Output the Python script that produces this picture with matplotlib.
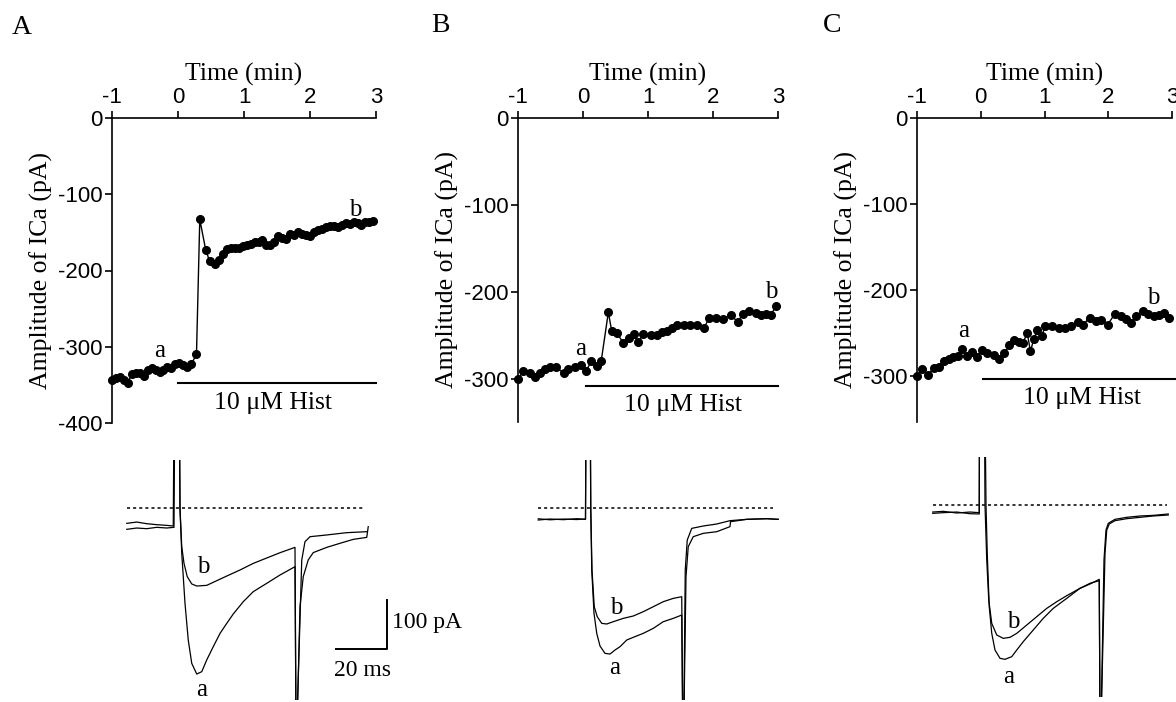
import numpy as np
import matplotlib
matplotlib.use("Agg")
from matplotlib import pyplot as plt

plt.rcParams["axes.unicode_minus"] = False

W, H = 1176, 702
SERIF = "Liberation Serif"
SANS = "Liberation Sans"

# ---- time course of ICa amplitude (min, pA) ----
time_A = [-1.00, -0.94, -0.88, -0.82, -0.76, -0.70, -0.64, -0.58, -0.52, -0.46,
          -0.40, -0.34, -0.28, -0.22, -0.16, -0.10, -0.04, 0.02, 0.08, 0.14,
          0.20, 0.28, 0.33, 0.42, 0.48, 0.56, 0.62, 0.68, 0.74, 0.80,
          0.86, 0.92, 0.98, 1.04, 1.10, 1.16, 1.22, 1.28, 1.34, 1.40,
          1.46, 1.52, 1.58, 1.64, 1.70, 1.76, 1.82, 1.88, 1.94, 2.00,
          2.06, 2.12, 2.18, 2.24, 2.30, 2.36, 2.42, 2.48, 2.54, 2.60,
          2.66, 2.72, 2.78, 2.84, 2.90, 2.95]
ica_A = [-343, -341, -340, -344, -347, -336, -334, -335, -339, -330,
         -328, -330, -333, -330, -327, -328, -322, -321, -324, -326,
         -323, -310, -133, -173, -188, -192, -186, -178, -172, -171,
         -170, -170, -168, -167, -165, -163, -162, -160, -166, -167,
         -163, -155, -157, -159, -152, -154, -149, -152, -153, -155,
         -150, -147, -145, -143, -141, -142, -143, -140, -138, -139,
         -137, -138, -140, -137, -136, -135]

time_B = [-1.00, -0.92, -0.82, -0.74, -0.66, -0.59, -0.51, -0.41, -0.30, -0.23,
          -0.13, -0.03, 0.05, 0.13, 0.21, 0.28, 0.39, 0.44, 0.52, 0.62,
          0.70, 0.78, 0.85, 0.93, 1.04, 1.14, 1.22, 1.29, 1.37, 1.45,
          1.55, 1.65, 1.76, 1.86, 1.94, 2.04, 2.15, 2.27, 2.38, 2.46,
          2.56, 2.66, 2.74, 2.81, 2.89, 2.97]
ica_B = [-300, -291, -293, -297, -293, -288, -286, -286, -293, -288,
         -286, -283, -290, -279, -285, -279, -223, -244, -247, -258,
         -253, -248, -257, -248, -249, -249, -246, -244, -241, -238,
         -238, -238, -238, -241, -230, -230, -231, -226, -234, -225,
         -221, -224, -226, -225, -226, -216]

time_C = [-1.00, -0.92, -0.82, -0.74, -0.66, -0.58, -0.50, -0.43, -0.35, -0.30,
          -0.22, -0.14, -0.06, 0.02, 0.10, 0.21, 0.29, 0.37, 0.45, 0.52,
          0.60, 0.66, 0.73, 0.78, 0.83, 0.89, 0.96, 1.01, 1.11, 1.22,
          1.32, 1.42, 1.53, 1.60, 1.71, 1.81, 1.89, 1.99, 2.10, 2.20,
          2.28, 2.36, 2.44, 2.54, 2.62, 2.72, 2.80, 2.88, 2.96]
ica_C = [-300, -292, -298, -290, -289, -282, -280, -278, -276, -268,
         -276, -272, -277, -269, -273, -275, -280, -273, -264, -258,
         -260, -261, -250, -271, -257, -246, -253, -241, -242, -244,
         -244, -242, -237, -240, -232, -236, -235, -240, -228, -230,
         -233, -238, -230, -224, -228, -230, -229, -226, -232]

# ---- current traces (ms from pulse onset, pA from zero level) ----
trA_a_t = [-19.7, -15.7, -11.7, -7.7, -3.7, -0.8, -0.5, 1.4, 1.6, 2.3, 3.6, 4.9, 6.3, 8.3,
           10.3, 12.3, 14.9, 17.6, 20.3, 22.9, 26.9, 30.9, 36.3, 41.6, 47.6, 48.0, 48.4,
           49.6, 50.9, 52.9, 54.9, 60.3, 65.6, 70.9, 76.3, 76.9]
trA_a_i = [-43.5, -40.8, -42.2, -39.4, -40.8, -39.4, 200, 200, -1.3, -92.5, -194.6, -269.4,
           -317, -338.8, -334, -310, -283, -256, -235.4, -216.3, -191.2, -170.7, -153.7,
           -136.7, -119.7, -450, -450, -201.4, -140, -106, -91, -80.3, -72, -64, -59.9, -38]
trA_b_t = [-19.7, -15.7, -11.7, -7.7, -3.7, -1.1, -0.8, 1.3, 1.6, 2.3, 3.2, 4.5, 6.3, 8.3,
           12.3, 16.3, 20.3, 25.6, 30.9, 36.3, 41.6, 47.6, 48.0, 48.3, 50.3, 51.6, 53.6,
           60.3, 68.3, 76.3]
trA_b_i = [-31.3, -28.6, -32, -34, -35.4, -36.7, 200, 200, -1.3, -78.9, -112.9, -140.1,
           -155, -159.2, -157.8, -148.3, -138.8, -126.5, -113, -102, -91.2, -80.3, -450,
           -450, -106, -68.7, -58.5, -55, -50.3, -48.3]

trB_a_t = [-19.5, -14.8, -9.5, -4.1, -0.6, -0.4, 1.3, 1.5, 1.9, 2.8, 3.9, 5.2, 7.2, 9.2,
           11.2, 13.2, 15.9, 18.5, 22.5, 26.5, 30.5, 34.5, 37.9, 38.3, 38.7, 39.6, 40.5,
           42.5, 46.5, 51.9, 57.2, 57.4, 63.9, 71.9, 76.5]
trB_a_i = [-24.5, -22.4, -23.8, -21.8, -23.1, 200, 200, 0, -126.5, -215, -255.8, -281.6,
           -296.6, -298, -289.8, -283, -269.4, -263.9, -255.8, -245.6, -232, -225.2, -218.4,
           -450, -450, -140, -78.9, -58.5, -51.7, -48.3, -38, -27.9, -23.1, -21.8, -23.1]
trB_b_t = [-19.5, -14.8, -9.5, -4.1, -0.6, -0.4, 1.3, 1.5, 2.0, 2.9, 4.1, 5.9, 7.9, 10.5,
           14.5, 18.5, 22.5, 26.5, 30.5, 34.5, 37.9, 38.3, 38.7, 39.3, 40.1, 41.9, 46.5,
           51.9, 57.2, 63.9, 71.9, 76.5]
trB_b_i = [-22.0, -24.0, -22.5, -23.5, -22.5, 200, 200, 0, -126.5, -201.4, -221.8, -235.4,
           -236.7, -232, -225.2, -220.4, -211.6, -201.4, -191.2, -184.4, -181, -450, -450,
           -126.5, -65.3, -41.5, -36.7, -32.6, -25.8, -23.1, -21.8, -23.1]

trC_a_t = [-19.7, -15.5, -10.1, -4.8, -1.1, -1.0, 1.2, 1.6, 2.1, 2.9, 3.9, 5.2, 7.2, 9.2,
           11.9, 13.9, 16.5, 20.5, 24.5, 28.5, 33.9, 39.2, 43.2, 46.9, 47.2, 47.6, 49.2,
           49.9, 50.9, 53.2, 57.9, 63.2, 68.5, 74.5]
trC_a_i = [-17, -15.6, -14.3, -17.7, -18.3, 200, 200, 0, -98.6, -207.5, -261.9, -295.9,
           -312.9, -314.9, -309.5, -295.9, -278.9, -255.1, -231.3, -210.9, -190.5, -170,
           -159.8, -154.4, -450, -450, -98.6, -51, -38.7, -31.9, -27.9, -25.1, -22.4, -20.4]
trC_b_t = [-19.7, -15.5, -10.1, -4.8, -1.1, -1.0, 1.0, 1.2, 1.9, 2.7, 3.9, 5.9, 8.5, 11.2,
           13.9, 17.9, 21.9, 25.9, 29.9, 33.9, 39.2, 43.2, 46.9, 47.2, 47.6, 48.8, 49.6,
           50.5, 53.2, 57.9, 63.2, 68.5, 74.5]
trC_b_i = [-14.3, -12.9, -16.3, -14.3, -15.6, 200, 200, 0, -112.2, -193.9, -241.5, -265.3,
           -272.1, -270, -261.9, -244.9, -227.9, -210.9, -197.3, -185, -170, -161.2, -151.7,
           -450, -450, -112, -51, -37.4, -29.2, -25.1, -22.4, -21.1, -18.3]


def box(l, t, r, b):
    return [l / W, 1 - b / H, (r - l) / W, (b - t) / H]


fig = plt.figure(figsize=(W / 100, H / 100), dpi=100)

panels = [
    # letter, letter pos, axes box, ymin, times, values, a pos, b pos, bar y, bar x0, bar x1, text pos
    ("A", (22, 27), (112, 118, 376, 423), -400, time_A, ica_A, (-0.28, -305), (2.68, -120),
     -347, 0.0, 3.0, (1.44, -374)),
    ("B", (440, 25), (518, 118, 778, 422), -349, time_B, ica_B, (-0.03, -265), (2.89, -200),
     -308, 0.05, 3.0, (1.54, -329)),
    ("C", (832, 25), (917, 118, 1172, 422), -353, time_C, ica_C, (-0.27, -247), (2.70, -209),
     -303, 0.03, 3.05, (1.59, -325)),
]

for (let, lpos, bx, ymin, tt, vv, apos, bpos, bary, bx0, bx1, tpos) in panels:
    fig.text(lpos[0] / W, 1 - lpos[1] / H, let, family=SERIF, fontsize=20,
             ha="center", va="center")
    ax = fig.add_axes(box(*bx))
    ax.plot(tt, vv, "-o", color="black", lw=1, ms=5.5, clip_on=False)
    ax.set_xlim(-1, 3)
    ax.set_ylim(ymin, 0)
    ax.spines["right"].set_visible(False)
    ax.spines["bottom"].set_visible(False)
    for s in ("top", "left"):
        ax.spines[s].set_linewidth(1.2)
    ax.xaxis.set_ticks_position("top")
    ax.xaxis.set_label_position("top")
    ax.set_xticks([-1, 0, 1, 2, 3])
    ax.set_yticks(np.arange(0, ymin - 1, -100))
    ax.tick_params(axis="both", direction="out", length=5, width=1.2, labelsize=16, pad=2)
    for lab in ax.get_xticklabels() + ax.get_yticklabels():
        lab.set_family(SANS)
    ax.set_xlabel("Time (min)", family=SERIF, fontsize=18.5, labelpad=5)
    ax.set_ylabel("Amplitude of ICa (pA)", family=SERIF, fontsize=18.5, labelpad=3)
    ax.text(apos[0], apos[1], "a", family=SERIF, fontsize=18, ha="center", va="center")
    ax.text(bpos[0], bpos[1], "b", family=SERIF, fontsize=18, ha="center", va="center")
    ax.plot([bx0, bx1], [bary, bary], color="black", lw=1.5, clip_on=False)
    ax.text(tpos[0], tpos[1], "10 \u03bcM Hist", family=SERIF, fontsize=18.5,
            ha="center", va="center")

traces = [
    ((120, 460, 400, 700), trA_a_t, trA_a_i, trA_b_t, trA_b_i, (10.3, -371), (10.9, -120), (-19.7, 75.6)),
    ((531, 460, 811, 700), trB_a_t, trB_a_i, trB_b_t, trB_b_i, (11.2, -327), (11.9, -205), (-19.5, 74.5)),
    ((926, 457, 1206, 697), trC_a_t, trC_a_i, trC_b_t, trC_b_i, (10.5, -350), (12.5, -238), (-19.7, 73.9)),
]

for i, (bx, at, ai, bt, bi, apos, bpos, dot) in enumerate(traces):
    tx = fig.add_axes(box(*bx))
    tx.set_xlim(-22.4, 89.6)
    tx.set_ylim(-391.8, 98)
    tx.axis("off")
    tx.plot(at, ai, color="black", lw=0.9)
    tx.plot(bt, bi, color="black", lw=0.9)
    tx.plot(dot, [0, 0], color="black", lw=1.1, ls=(0, (2, 2)))
    tx.text(apos[0], apos[1], "a", family=SERIF, fontsize=18, ha="center", va="center")
    tx.text(bpos[0], bpos[1], "b", family=SERIF, fontsize=18, ha="center", va="center")
    if i == 0:
        tx.plot([64, 84.4, 84.4], [-287.8, -287.8, -187.8], color="black", lw=1.4)
        tx.text(86.5, -233, "100 pA", family=SERIF, fontsize=17, ha="left", va="center")
        tx.text(74.4, -331, "20 ms", family=SERIF, fontsize=17, ha="center", va="center")

fig.savefig("out.png", dpi=100)
